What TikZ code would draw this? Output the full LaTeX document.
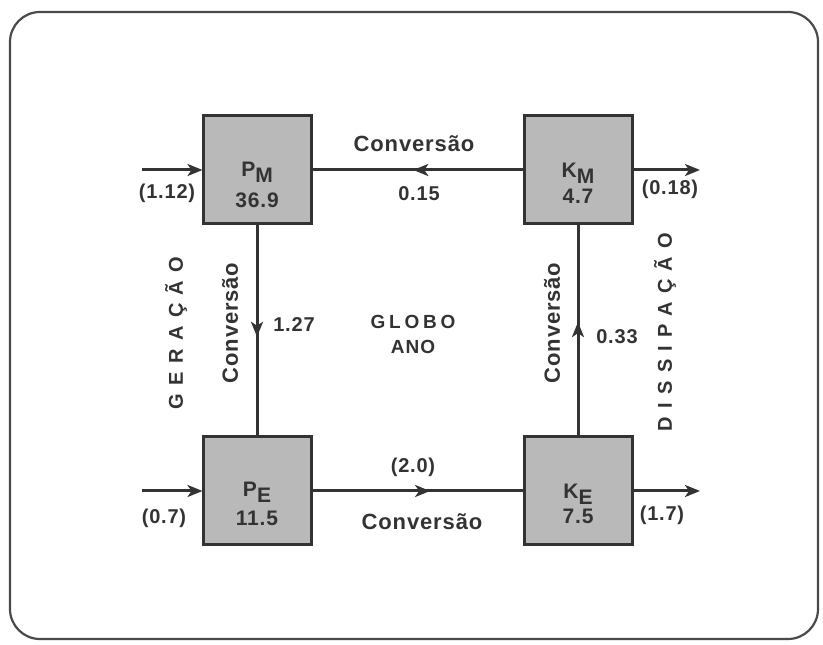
\documentclass[tikz,border=0pt]{standalone}
\usepackage{fontspec}
\setmainfont{Liberation Sans}
\newfontfamily\lab[LetterSpace=4]{Liberation Sans Bold}
\newfontfamily\labnum[LetterSpace=4]{Liberation Sans Bold}
\newfontfamily\labwide[LetterSpace=42]{Liberation Sans Bold}
\newfontfamily\labglobo[LetterSpace=20]{Liberation Sans Bold}
\newfontfamily\labano[LetterSpace=6]{Liberation Sans Bold}
\usetikzlibrary{arrows.meta,decorations.markings}
\definecolor{ink}{HTML}{333333}
\definecolor{boxfill}{HTML}{B9B9B9}
\definecolor{frame}{HTML}{4A4A4A}
\tikzset{
  store/.style={draw=ink, line width=3pt, fill=boxfill, minimum width=108pt,
    minimum height=108pt, inner sep=0pt},
  storetext/.style={text=ink, align=center, inner sep=0pt},
  flow/.style={draw=ink, line width=3pt},
  midarrow/.style={postaction={decorate}, decoration={markings,
    mark=at position #1 with {\arrow{Stealth[length=15pt,width=12pt,inset=4pt]}}}},
  endarrow/.style={-{Stealth[length=15pt,width=12pt,inset=4pt]}},
  word/.style={text=ink, inner sep=0pt, font=\lab\fontsize{22}{24}\selectfont},
  num/.style={text=ink, inner sep=0pt, font=\labnum\fontsize{20}{22}\selectfont},
  side/.style={text=ink, inner sep=0pt, rotate=90, font=\labwide\fontsize{20}{22}\selectfont},
}
\newcommand{\subl}[1]{\raisebox{-6pt}{#1}}
\begin{document}
\begin{tikzpicture}[x=1pt,y=1pt]
\useasboundingbox (0,0) rectangle (823,645);
\draw[frame, line width=2.2pt, rounded corners=30pt] (10,6) rectangle (818,633);

% boxes
\node[store] (PM) at (257,475) {};
\node[store] (KM) at (578,475) {};
\node[store] (PE) at (257,154) {};
\node[store] (KE) at (578,154) {};

\node[storetext, font=\labnum\fontsize{21}{31}\selectfont] (PMt) at (257,460) {P\subl{M}\\36.9};
\node[storetext, font=\labnum\fontsize{21}{26}\selectfont] (KMt) at (578,462) {K\subl{M}\\4.7};
\node[storetext, font=\labnum\fontsize{21}{29}\selectfont] (PEt) at (257,141) {P\subl{E}\\11.5};
\node[storetext, font=\labnum\fontsize{21}{25}\selectfont] (KEt) at (578,141) {K\subl{E}\\7.5};

% free ends
\coordinate (inPM) at (142,475);
\coordinate (inPE) at (142,154);
\coordinate (outKM) at (700,475);
\coordinate (outKE) at (700,154);

% connectors
\draw[flow, endarrow, shorten >=-1pt] (inPM) -- (PM.west);
\draw[flow, endarrow, shorten >=-1pt] (inPE) -- (PE.west);
\draw[flow, endarrow] (KM.east) -- (outKM);
\draw[flow, endarrow] (KE.east) -- (outKE);
\draw[flow, midarrow=0.52] (KM.west) -- (PM.east);
\draw[flow, midarrow=0.56] (PE.east) -- (KE.west);
\draw[flow, midarrow=0.53] (PM.south) -- (PE.north);
\draw[flow, midarrow=0.54] (KE.north) -- (KM.south);

% labels
\node[num] (l112) at (167,452) {(1.12)};
\node[num] (l07) at (164,127) {(0.7)};
\node[num] (l018) at (670,456) {(0.18)};
\node[num] (l17) at (662,130) {(1.7)};
\node[num] (l015) at (419,451) {0.15};
\node[num] (l20) at (413,178) {(2.0)};
\node[num] (l127) at (294,320) {1.27};
\node[num] (l033) at (617,308) {0.33};

\node[word] (cTop) at (414,501) {Conversão};
\node[word] (cBot) at (422,123) {Conversão};
\node[word, rotate=90] (cLeft) at (230,322) {Conversão};
\node[word, rotate=90] (cRight) at (552,322) {Conversão};

\node[text=ink, inner sep=0pt, font=\labglobo\fontsize{19}{22}\selectfont] (globo) at (413,323) {GLOBO};
\node[text=ink, inner sep=0pt, font=\labano\fontsize{19}{22}\selectfont] (ano) at (413,298) {ANO};

\node[side] (ger) at (176,312) {GERAÇÃO};
\node[side] (dis) at (665,313) {DISSIPAÇÃO};
\end{tikzpicture}
\end{document}
